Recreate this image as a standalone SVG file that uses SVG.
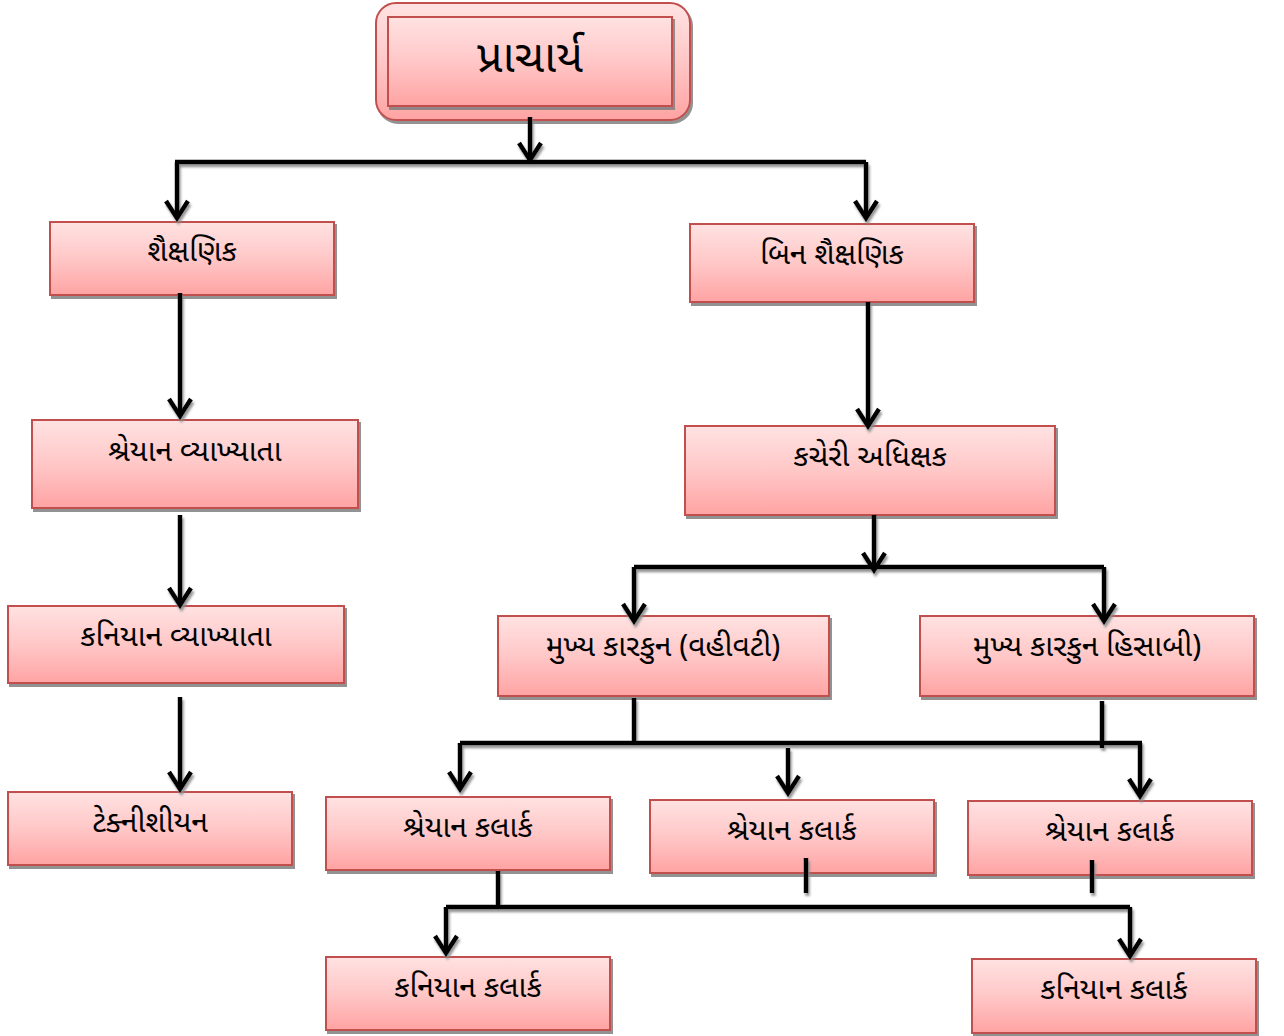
<svg xmlns="http://www.w3.org/2000/svg" width="1284" height="1036" viewBox="0 0 1284 1036">
<defs>
<linearGradient id="g" x1="0" y1="0" x2="0" y2="1">
<stop offset="0" stop-color="#ffe2e2"/>
<stop offset="0.5" stop-color="#ffc7c7"/>
<stop offset="1" stop-color="#ffa3a3"/>
</linearGradient>
<filter id="sh" x="-10%" y="-10%" width="130%" height="140%">
<feDropShadow dx="2" dy="3" stdDeviation="0.6" flood-color="#7f7f7f" flood-opacity="0.85"/>
</filter>
<filter id="lsh" x="-50%" y="-50%" width="200%" height="200%">
<feDropShadow dx="1.5" dy="3" stdDeviation="0.8" flood-color="#8a8a8a" flood-opacity="0.9"/>
</filter>
<marker id="ah" markerUnits="userSpaceOnUse" viewBox="-22 -14 26 28" refX="0" refY="0" markerWidth="26" markerHeight="28" orient="auto" overflow="visible">
<path d="M-17,-11 L0,0 L-17,11" fill="none" stroke="#000" stroke-width="4.5" stroke-linejoin="miter"/>
</marker>
</defs>
<style>
.box{fill:url(#g);stroke:#c0504d;stroke-width:2;filter:url(#sh)}
.t{font-family:"Noto Sans Gujarati","Lohit Gujarati","Shruti","Noto Sans","DejaVu Sans",sans-serif;font-size:30px;fill:#000;text-anchor:middle}
.c path{fill:none;stroke:#000;stroke-width:4.5}
</style>

<g id="n-principal">
<rect x="376" y="3" width="314" height="117" rx="20" ry="20" class="box"/>
<rect x="388" y="17" width="284" height="89" class="box"/>
<text x="530" y="72" class="t" style="font-size:45px">પ્રાચાર્ય</text>
</g>
<g id="n-academic">
<rect x="50" y="222" width="284" height="73" class="box"/>
<text x="192" y="261" class="t">શૈક્ષણિક</text>
</g>
<g id="n-nonacademic">
<rect x="690" y="224" width="284" height="78" class="box"/>
<text x="832" y="264" class="t">બિન શૈક્ષણિક</text>
</g>
<g id="n-senior-lecturer">
<rect x="32" y="420" width="326" height="88" class="box"/>
<text x="195" y="461" class="t">શ્રેયાન વ્યાખ્યાતા</text>
</g>
<g id="n-office-supt">
<rect x="685" y="426" width="370" height="89" class="box"/>
<text x="870" y="466" class="t">કચેરી અધિક્ષક</text>
</g>
<g id="n-junior-lecturer">
<rect x="8" y="606" width="336" height="77" class="box"/>
<text x="176" y="646" class="t">કનિયાન વ્યાખ્યાતા</text>
</g>
<g id="n-technician">
<rect x="8" y="792" width="284" height="73" class="box"/>
<text x="150" y="832" class="t">ટેક્નીશીયન</text>
</g>
<g id="n-head-clerk-admin">
<rect x="498" y="616" width="331" height="80" class="box"/>
<text x="663" y="656" class="t">મુખ્ય કારકુન (વહીવટી)</text>
</g>
<g id="n-head-clerk-accounts">
<rect x="920" y="616" width="334" height="80" class="box"/>
<text x="1087" y="656" class="t">મુખ્ય કારકુન હિસાબી)</text>
</g>
<g id="n-senior-clerk-1">
<rect x="326" y="797" width="284" height="73" class="box"/>
<text x="468" y="837" class="t">શ્રેયાન કલાર્ક</text>
</g>
<g id="n-senior-clerk-2">
<rect x="650" y="800" width="284" height="73" class="box"/>
<text x="792" y="840" class="t">શ્રેયાન કલાર્ક</text>
</g>
<g id="n-senior-clerk-3">
<rect x="968" y="801" width="284" height="74" class="box"/>
<text x="1110" y="841" class="t">શ્રેયાન કલાર્ક</text>
</g>
<g id="n-junior-clerk-1">
<rect x="326" y="957" width="284" height="73" class="box"/>
<text x="468" y="997" class="t">કનિયાન કલાર્ક</text>
</g>
<g id="n-junior-clerk-2">
<rect x="972" y="959" width="284" height="74" class="box"/>
<text x="1114" y="999" class="t">કનિયાન કલાર્ક</text>
</g>

<g id="connectors" class="c" filter="url(#lsh)">
<path d="M530,117 V160" marker-end="url(#ah)"/>
<path d="M175,162 H866"/>
<path d="M177,162 V218" marker-end="url(#ah)"/>
<path d="M866,162 V218" marker-end="url(#ah)"/>
<path d="M180,293 V416" marker-end="url(#ah)"/>
<path d="M868,302 V426" marker-end="url(#ah)"/>
<path d="M180,515 V605" marker-end="url(#ah)"/>
<path d="M180,697 V789" marker-end="url(#ah)"/>
<path d="M874,515 V570" marker-end="url(#ah)"/>
<path d="M634,567 H1104"/>
<path d="M634,567 V621" marker-end="url(#ah)"/>
<path d="M1104,567 V621" marker-end="url(#ah)"/>
<path d="M634,698 V743"/>
<path d="M460,743 H1142"/>
<path d="M460,743 V789" marker-end="url(#ah)"/>
<path d="M788,748 V793" marker-end="url(#ah)"/>
<path d="M1140,743 V796" marker-end="url(#ah)"/>
<path d="M1102,701 V748"/>
<path d="M498,871 V907"/>
<path d="M446,907 H1130"/>
<path d="M446,907 V953" marker-end="url(#ah)"/>
<path d="M1130,907 V956" marker-end="url(#ah)"/>
<path d="M806,858 V893"/>
<path d="M1092,860 V893"/>
</g>
</svg>
